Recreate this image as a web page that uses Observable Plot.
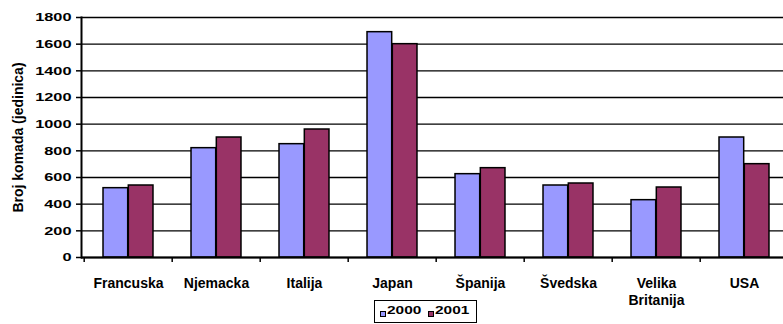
<!DOCTYPE html>
<html>
<head>
<meta charset="utf-8">
<script src="https://cdn.jsdelivr.net/npm/d3@7"></script>
<script src="https://cdn.jsdelivr.net/npm/@observablehq/plot@0.6"></script>
<style>
  body { margin: 0; background: #fff; font-family: "Liberation Sans", Arial, sans-serif; }
  #chart { position: relative; width: 783px; }
  #chart svg, #chart svg text { font-family: "Liberation Sans", Arial, sans-serif !important; }
  .legend { position: relative; height: 24px; }
  .legend .box { position: absolute; left: 374px; top: 0px; width: 101px; height: 21px; border: 1.5px solid #000; background: #fff; }
  .legend .sw { position: absolute; top: 10px; width: 4px; height: 4px; border: 1px solid #000; }
  .legend .lbl { position: absolute; top: 2px; font-size: 11.5px; font-weight: bold; line-height: 14px; transform: scaleX(1.34); transform-origin: left center; color: #000; }
</style>
</head>
<body>
<div id="chart"></div>
<script>
// Units sold per country, 2000 vs 2001
const countries = ["Francuska", "Njemacka", "Italija", "Japan", "Španija", "Švedska", "Velika Britanija", "USA"];
const years = ["2000", "2001"];
const units2000 = [520, 820, 850, 1690, 625, 540, 430, 900];
const units2001 = [540, 900, 960, 1600, 670, 555, 525, 700];
const yTicks = [0, 200, 400, 600, 800, 1000, 1200, 1400, 1600, 1800];
const seriesColors = ["#9999ff", "#993366"];

const rows = countries.flatMap((c, i) => [
  {country: c, year: years[0], value: units2000[i]},
  {country: c, year: years[1], value: units2001[i]}
]);

// horizontal layout of the category bands
const xRange = [81, 790];
const step = (xRange[1] - xRange[0]) / countries.length;
const barW = 25.3;
const outer = (step - 2 * barW) / 2;

const chart = Plot.plot({
  width: 783,
  height: 300,
  marginLeft: 81,
  marginRight: 0,
  marginTop: 17,
  marginBottom: 43,
  style: {fontFamily: "Liberation Sans, Arial, sans-serif", overflow: "visible", background: "transparent", color: "#000"},
  x: {domain: countries, range: xRange, padding: 0, axis: null},
  y: {domain: [0, 1800], axis: null},
  color: {domain: years, range: seriesColors},
  marks: [
    Plot.ruleY(yTicks, {stroke: "#000", strokeWidth: 1.4}),
    Plot.barY(rows.filter(d => d.year === years[0]), {
      x: "country", y: "value", fill: "year", stroke: "#000", strokeWidth: 1.5,
      insetLeft: outer, insetRight: step - outer - barW
    }),
    Plot.barY(rows.filter(d => d.year === years[1]), {
      x: "country", y: "value", fill: "year", stroke: "#000", strokeWidth: 1.5,
      insetLeft: outer + barW, insetRight: outer
    }),
    Plot.ruleY([0], {stroke: "#000", strokeWidth: 2}),
    Plot.frame({anchor: "left", stroke: "#000", strokeWidth: 2}),
    // category boundary ticks
    Plot.axisX({tickSize: 5, tickFormat: () => "", dx: -step / 2, strokeWidth: 1.5, label: null}),
    // category labels
    Plot.axisX({
      tickSize: 0, tickPadding: 18, fontSize: 14, fontWeight: "bold", lineHeight: 1.22,
      tickFormat: d => d.replace(" ", "\n"), label: null
    }),
    Plot.axisY({
      ticks: yTicks, tickSize: 5, tickPadding: 5, fontSize: 11.5, fontWeight: "bold",
      strokeWidth: 1.5, label: null, className: "yticks", tickFormat: d => String(d)
    }),
    Plot.axisY({
      ticks: [], label: "Broj komada (jedinica)", labelAnchor: "center", labelArrow: "none",
      labelOffset: 68, fontSize: 14, fontWeight: "bold"
    })
  ]
});

const root = document.getElementById("chart");
root.appendChild(chart);

// the numeric tick labels are drawn wide
chart.querySelectorAll(".yticks text").forEach(t => {
  const w = t.getComputedTextLength();
  t.setAttribute("textLength", (w * 1.42).toFixed(2));
  t.setAttribute("lengthAdjust", "spacingAndGlyphs");
});

// legend below the plot
const legend = d3.select(root).append("div").attr("class", "legend");
const box = legend.append("div").attr("class", "box");
const itemLeft = [5, 53];
years.forEach((yr, i) => {
  box.append("div").attr("class", "sw")
    .style("left", itemLeft[i] + "px")
    .style("background", seriesColors[i]);
  box.append("div").attr("class", "lbl")
    .style("left", (itemLeft[i] + 7) + "px")
    .text(yr);
});
</script>
</body>
</html>
